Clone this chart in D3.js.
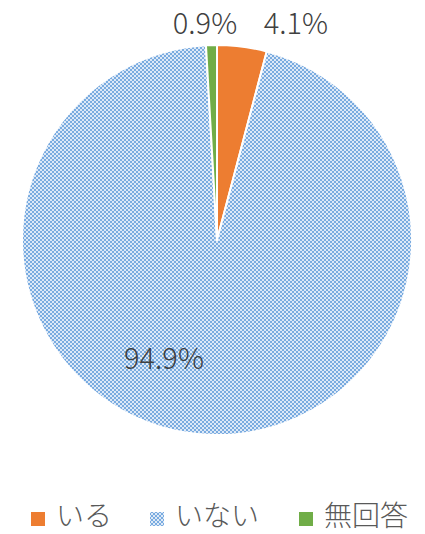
<!DOCTYPE html>
<html><head><meta charset="utf-8">
<script src="https://cdn.jsdelivr.net/npm/d3@7"></script>
<style>body{margin:0;background:#fff}svg{display:block}</style>
</head><body>
<script>
const categories = ["いる", "いない", "無回答"];
const values = [4.1, 94.9, 0.9];
const labels = ["4.1%", "94.9%", "0.9%"];
const colors = ["#ED7D31", "url(#hatch)", "#70AD47"];

const W = 425, H = 534;
const svg = d3.select("body").append("svg").attr("width", W).attr("height", H);
const defs = svg.append("defs");
const pat = defs.append("pattern").attr("id", "hatch").attr("patternUnits", "userSpaceOnUse")
  .attr("width", 4).attr("height", 4);
pat.append("rect").attr("width", 4).attr("height", 4).attr("fill", "#dde9f7");
pat.append("path").attr("d", "M0,0 L4,4 M4,0 L0,4").attr("stroke", "#79abe0").attr("stroke-width", 1);

const cx = 217, cy = 240, R = 195;
const pie = d3.pie().sort(null).value(d => d)(values);
const arc = d3.arc().innerRadius(0).outerRadius(R);
const g = svg.append("g").attr("transform", `translate(${cx},${cy})`);
g.selectAll("path").data(pie).join("path")
  .attr("d", arc).attr("fill", (d, i) => colors[i])
  .attr("stroke", "#fff").attr("stroke-width", 2).attr("stroke-linejoin", "round");

// label placement offsets (Excel-style adjusted positions)
const labelPos = [[79, -206], [-53, 129], [-12, -206]];
g.selectAll("text.lbl").data(pie).join("text").attr("class", "lbl")
  .attr("x", (d, i) => labelPos[i][0]).attr("y", (d, i) => labelPos[i][1])
  .attr("text-anchor", "middle")
  .attr("font-family", "'Noto Sans CJK JP','Noto Sans',sans-serif").attr("font-weight", 300)
  .attr("font-size", 29).attr("fill", "#404040")
  .text((d, i) => labels[i]);

// legend
const legX = [31, 150, 299];
const lg = svg.append("g");
categories.forEach((c, i) => {
  lg.append("rect").attr("x", legX[i]).attr("y", 512).attr("width", 14).attr("height", 14)
    .attr("fill", colors[i]);
  lg.append("text").attr("x", legX[i] + 25).attr("y", 526)
    .attr("font-family", "'Noto Sans CJK JP',sans-serif").attr("font-weight", 300)
    .attr("font-size", 28).attr("fill", "#595959").text(c);
});
</script>
</body></html>
